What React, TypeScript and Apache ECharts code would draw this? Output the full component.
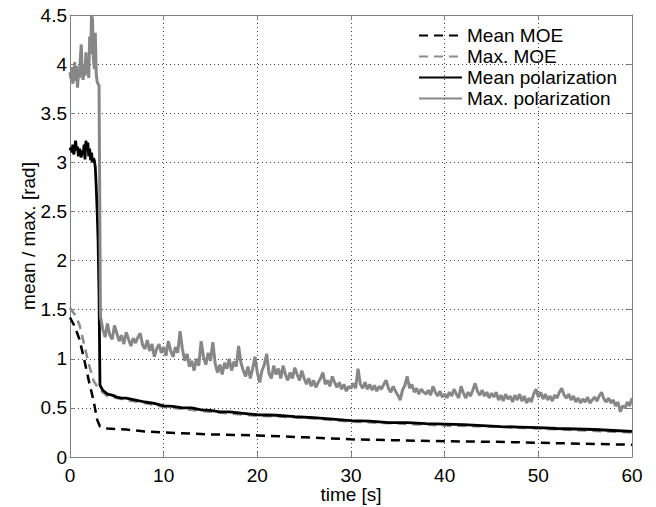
import React, { useEffect, useRef } from "react";
import * as echarts from "echarts";

const FONT = "Liberation Sans";

const seriesNames = ["Mean MOE", "Max. MOE", "Mean polarization", "Max. polarization"];

// Mean MOE (dashed black)
const meanMoeT = [0, 0.5, 1.0, 1.5, 2.0, 2.5, 2.9, 3.2, 4, 6, 8, 10, 15, 20, 25, 30, 35, 40, 45, 50, 55, 60];
const meanMoeV = [1.42, 1.33, 1.2, 1.0, 0.78, 0.58, 0.38, 0.31, 0.29, 0.28, 0.26, 0.25, 0.23, 0.22, 0.2, 0.18, 0.17, 0.16, 0.155, 0.145, 0.135, 0.125];

// Max. MOE (dashed gray)
const maxMoeT = [0, 0.5, 1.0, 1.5, 2.0, 2.5, 3.0, 3.5, 4, 5, 6, 8, 10, 15, 20, 25, 30, 35, 40, 45, 50, 55, 60];
const maxMoeV = [1.52, 1.45, 1.35, 1.15, 0.95, 0.78, 0.7, 0.66, 0.62, 0.6, 0.58, 0.55, 0.51, 0.46, 0.42, 0.4, 0.36, 0.34, 0.32, 0.31, 0.29, 0.27, 0.25];

// Mean polarization (solid black)
const meanPolT = [
  0, 0.1, 0.2, 0.3, 0.4, 0.5, 0.6, 0.7, 0.8, 0.9, 1.0, 1.1, 1.2, 1.3, 1.4, 1.5, 1.6, 1.7, 1.8, 1.9,
  2.0, 2.1, 2.2, 2.3, 2.4, 2.5, 2.6, 2.7, 2.8, 2.9, 3.0, 3.1, 3.2,
  3.5, 4.0, 4.5, 5.0, 5.5, 6.0, 7.0, 8.0, 9.0, 10.0, 11.0, 12.0, 13.0, 14.0, 15.0, 16.0, 17.0, 18.0, 19.0,
  20, 22, 24, 26, 28, 30, 32, 34, 36, 38, 40, 42, 44, 46, 48, 50, 52, 54, 56, 58, 60,
];
const meanPolV = [
  3.12, 3.15, 3.1, 3.18, 3.08, 3.14, 3.22, 3.12, 3.16, 3.06, 3.14, 3.1, 3.05, 3.12, 3.08, 3.18, 3.03, 3.22, 3.12, 3.2,
  3.06, 3.14, 3.02, 3.1, 3.0, 3.04, 3.02, 2.95, 2.75, 2.5, 2.2, 1.65, 0.73,
  0.68, 0.64, 0.63, 0.61, 0.6, 0.6, 0.58, 0.56, 0.545, 0.52, 0.515, 0.5, 0.5, 0.48, 0.475, 0.46, 0.46, 0.45, 0.44,
  0.43, 0.425, 0.41, 0.4, 0.385, 0.37, 0.365, 0.35, 0.35, 0.34, 0.335, 0.33, 0.32, 0.31, 0.305, 0.3, 0.29, 0.285, 0.28, 0.27, 0.26,
];

// Max. polarization (solid gray): fine start segment
const maxPolStartT = [
  0, 0.1, 0.2, 0.3, 0.4, 0.5, 0.6, 0.7, 0.8, 0.9, 1.0, 1.1, 1.2, 1.3, 1.4, 1.5, 1.6, 1.7, 1.8, 1.9,
  2.0, 2.1, 2.2, 2.3, 2.4, 2.5, 2.6, 2.7, 2.8, 2.9, 3.0, 3.1, 3.25,
];
const maxPolStartV = [
  3.92, 3.85, 3.97, 3.8, 3.88, 4.02, 3.83, 3.98, 3.76, 3.9, 3.86, 4.05, 4.2, 3.92, 3.84, 4.0, 3.88, 4.12, 3.9, 4.05,
  3.86, 4.28, 4.1, 4.5, 4.46, 4.05, 3.95, 4.32, 3.9, 3.82, 3.8, 3.78, 1.43,
];
// Max. polarization: readings every 0.25 s from 3.5 s to 60 s
const maxPolLateStart = 3.5;
const maxPolLateStep = 0.25;
const maxPolLateV = [
  // 3.5 – 10.0
  1.3, 1.22, 1.36, 1.24, 1.2, 1.34, 1.26, 1.18, 1.24, 1.15, 1.27, 1.2, 1.13, 1.21, 1.16, 1.22, 1.26, 1.14, 1.1, 1.19,
  1.08, 1.15, 1.02, 1.1, 1.15, 1.06, 1.12,
  // 10.25 – 20.0
  1.03, 1.18, 1.08, 1.02, 1.12, 1.06, 1.28, 1.1, 0.98, 1.05, 0.92, 0.98, 0.88, 1.0, 0.93, 1.18, 1.02, 0.94, 1.06, 0.98,
  1.17, 0.95, 0.86, 0.94, 0.84, 0.96, 0.9, 1.0, 0.88, 0.97, 0.92, 1.13, 0.96, 0.88, 0.82, 0.92, 0.8, 0.9, 1.02, 0.86,
  // 20.25 – 30.0
  0.76, 0.88, 0.94, 1.05, 0.85, 0.8, 0.93, 0.84, 0.9, 0.8, 0.93, 0.84, 0.78, 0.86, 0.8, 0.91, 0.84, 0.78, 0.88, 0.8,
  0.74, 0.8, 0.72, 0.78, 0.71, 0.76, 0.8, 0.86, 0.74, 0.78, 0.72, 0.82, 0.76, 0.71, 0.76, 0.69, 0.74, 0.67, 0.72, 0.7,
  // 30.25 – 40.0
  0.75, 0.7, 0.9, 0.74, 0.7, 0.76, 0.69, 0.74, 0.68, 0.73, 0.67, 0.72, 0.69, 0.74, 0.78, 0.7, 0.66, 0.72, 0.67, 0.63,
  0.58, 0.68, 0.73, 0.82, 0.7, 0.74, 0.66, 0.7, 0.64, 0.69, 0.66, 0.64, 0.68, 0.63, 0.72, 0.66, 0.62, 0.67, 0.61, 0.64,
  // 40.25 – 50.0
  0.6, 0.66, 0.62, 0.69, 0.64, 0.6, 0.72, 0.65, 0.6, 0.66, 0.62, 0.68, 0.75, 0.67, 0.63, 0.68, 0.62, 0.66, 0.6, 0.65,
  0.61, 0.66, 0.58, 0.63, 0.57, 0.64, 0.59, 0.62, 0.56, 0.63, 0.58, 0.64, 0.57, 0.62, 0.55, 0.6, 0.56, 0.64, 0.69, 0.61,
  // 50.25 – 60.0
  0.66, 0.59, 0.64, 0.58, 0.62, 0.57, 0.63, 0.6, 0.66, 0.7, 0.63, 0.6, 0.64, 0.58, 0.62, 0.56, 0.6, 0.55, 0.59, 0.56,
  0.61, 0.55, 0.58, 0.61, 0.57, 0.62, 0.66, 0.59, 0.56, 0.6, 0.55, 0.58, 0.52, 0.56, 0.46, 0.52, 0.5, 0.56, 0.52, 0.6,
];

const pairs = (t: number[], v: number[]) => t.map((x, i) => [x, v[i]]);
const maxPolData = [
  ...pairs(maxPolStartT, maxPolStartV),
  ...maxPolLateV.map((v, i) => [maxPolLateStart + i * maxPolLateStep, v]),
];

export default function App() {
  const ref = useRef<HTMLDivElement>(null);
  useEffect(() => {
    if (!ref.current) return;
    const chart = echarts.init(ref.current, undefined, { renderer: "svg" });
    const axisColor = "#808080";
    const gridLine = { show: true, lineStyle: { color: "#444", width: 1, type: [1, 3] as any } };
    const labelStyle = { color: "#000", fontSize: 19, fontFamily: FONT };
    const sideAxis = {
      axisLine: { show: true, onZero: false, lineStyle: { color: axisColor } },
      axisTick: { show: true, inside: true, length: 5, lineStyle: { color: axisColor } },
    };
    const mkLine = (name: string, data: any, color: string, width: number, dashed: boolean) => ({
      name,
      type: "line",
      symbol: "none",
      data,
      itemStyle: { color },
      lineStyle: { color, width, type: dashed ? [9, 6] : "solid" },
    });
    chart.setOption({
      animation: false,
      backgroundColor: "#fff",
      grid: { left: 70, right: 24, top: 15, bottom: 50, containLabel: false, outerBoundsMode: "none" },
      legend: {
        orient: "vertical",
        left: 418,
        top: 26,
        padding: 0,
        itemWidth: 43,
        itemHeight: 14,
        itemGap: 2,
        data: seriesNames,
        itemStyle: { opacity: 0 },
        textStyle: { color: "#000", fontSize: 19, fontFamily: FONT, lineHeight: 19 },
      },
      xAxis: [
        {
          type: "value",
          min: 0,
          max: 60,
          interval: 10,
          position: "bottom",
          ...sideAxis,
          axisLabel: { ...labelStyle, margin: 9, lineHeight: 19 },
          splitLine: gridLine,
          name: "time [s]",
          nameLocation: "middle",
          nameGap: 28,
          nameMoveOverlap: false,
          nameTextStyle: { ...labelStyle, lineHeight: 19 },
        },
        {
          type: "value",
          min: 0,
          max: 60,
          interval: 10,
          position: "top",
          ...sideAxis,
          axisLabel: { show: false },
          splitLine: { show: false },
        },
      ],
      yAxis: [
        {
          type: "value",
          min: 0,
          max: 4.5,
          interval: 0.5,
          position: "left",
          ...sideAxis,
          axisLabel: { ...labelStyle, margin: 3 },
          splitLine: gridLine,
          name: "mean / max. [rad]",
          nameLocation: "middle",
          nameGap: 32,
          nameMoveOverlap: false,
          nameTextStyle: { ...labelStyle },
        },
        {
          type: "value",
          min: 0,
          max: 4.5,
          interval: 0.5,
          position: "right",
          ...sideAxis,
          axisLabel: { show: false },
          splitLine: { show: false },
        },
      ],
      series: [
        mkLine(seriesNames[0], pairs(meanMoeT, meanMoeV), "#000", 2.5, true),
        mkLine(seriesNames[1], pairs(maxMoeT, maxMoeV), "#8c8c8c", 2.5, true),
        mkLine(seriesNames[2], pairs(meanPolT, meanPolV), "#000", 2.8, false),
        mkLine(seriesNames[3], maxPolData, "#878787", 3, false),
      ],
    });
    return () => chart.dispose();
  }, []);
  return (
    <div
      ref={ref}
      style={{ position: "fixed", left: 0, top: 0, width: 656, height: 507, background: "#fff" }}
    />
  );
}
